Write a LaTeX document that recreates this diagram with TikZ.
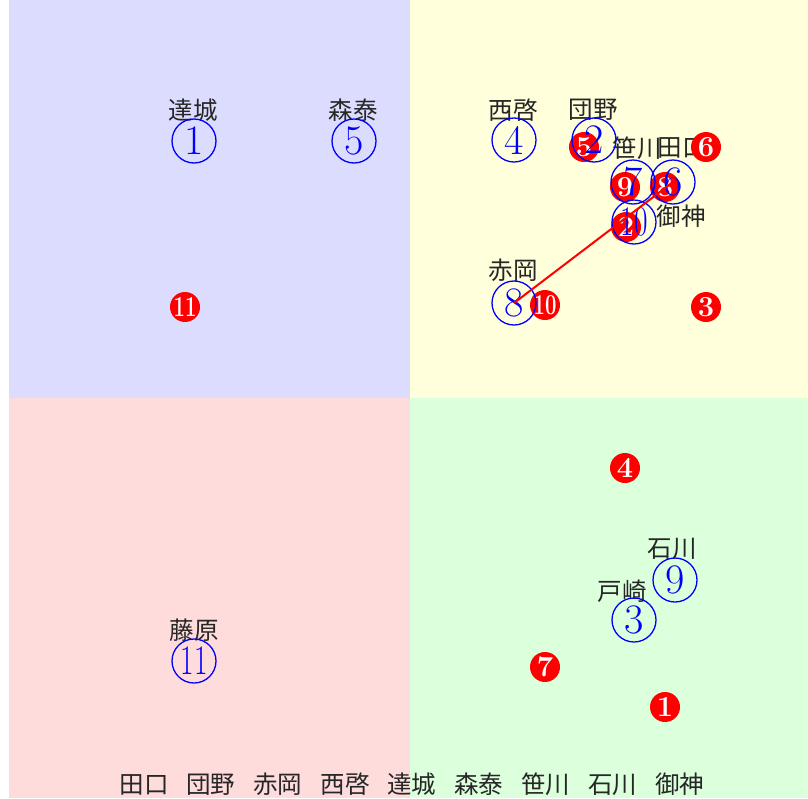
\documentclass[tikz,border=0pt]{standalone}
\usepackage{fontspec}
\usepackage{graphicx}
\newfontfamily\cjk{Noto Sans CJK JP}
\definecolor{qblue}{RGB}{220,220,255}
\definecolor{qyellow}{RGB}{255,255,220}
\definecolor{qpink}{RGB}{255,220,220}
\definecolor{qgreen}{RGB}{220,255,220}
\newcommand{\wgap}{\hspace{18pt}}
\newcommand{\nar}[1]{\scalebox{0.7}[1]{#1}}
\tikzset{
  lbl/.style={font=\cjk\fontsize{24.5}{24.5}\selectfont, text=black!85, inner sep=0},
  bnum/.style={circle, draw=blue, text=blue, line width=1.3pt, minimum size=44pt, inner sep=0, font=\fontsize{42}{42}\selectfont},
  rnum/.style={circle, fill=red, text=white, minimum size=30pt, inner sep=0, font=\bfseries\fontsize{29}{29}\selectfont},
  link/.style={draw=red, line width=2pt}
}
\begin{document}
\begin{tikzpicture}[x=1pt,y=-1pt]
\useasboundingbox (0,0) rectangle (808,798);
\fill[qblue] (9,0) rectangle (410,398);
\fill[qyellow] (410,0) rectangle (808,398);
\fill[qpink] (9,398) rectangle (410,798);
\fill[qgreen] (410,398) rectangle (808,798);
% labels
\node[lbl] (l1) at (193,110) {達城};
\node[lbl] (l5) at (353,110) {森泰};
\node[lbl] (l4) at (513,110) {西啓};
\node[lbl] (l2) at (593,110) {団野};
\node[lbl] (l7) at (637,148) {笹川};
\node[lbl] (l6) at (682,148) {田口};
\node[lbl] (l10) at (681,216) {御神};
\node[lbl] (l8) at (513,270) {赤岡};
\node[lbl] (l9) at (672,549) {石川};
\node[lbl] (l3) at (622,591) {戸崎};
\node[lbl] (l11) at (194,630) {藤原};
% red markers
\node[rnum] (r1) at (665,707) {1};
\node[rnum] (r2) at (626,227) {2};
\node[rnum] (r3) at (706,307) {3};
\node[rnum] (r4) at (625,468) {4};
\node[rnum] (r5) at (584,147) {5};
\node[rnum] (r6) at (706,147) {6};
\node[rnum] (r7) at (545,667) {7};
\node[rnum] (r8) at (665,187) {8};
\node[rnum] (r9) at (625,187) {9};
\node[rnum] (r10) at (545,305) {\nar{10}};
\node[rnum] (r11) at (185,307) {\nar{11}};
% blue markers
\node[bnum] (n1) at (194,141) {1};
\node[bnum] (n5) at (354,141) {5};
\node[bnum] (n4) at (514,140) {4};
\node[bnum] (n2) at (594,140) {2};
\node[bnum] (n7) at (633,182) {7};
\node[bnum] (n6) at (673,182) {6};
\node[bnum] (n10) at (634,222) {\nar{10}};
\node[bnum] (n8) at (514,303) {8};
\node[bnum] (n9) at (675,580) {9};
\node[bnum] (n3) at (634,620) {3};
\node[bnum] (n11) at (194,661) {\nar{11}};
% link
\draw[link] (n8.center) -- (n6.center);
% bottom list
\node[lbl] (legend) at (412,784) {田口\wgap 団野\wgap 赤岡\wgap 西啓\wgap 達城\wgap 森泰\wgap 笹川\wgap 石川\wgap 御神};
\end{tikzpicture}
\end{document}
